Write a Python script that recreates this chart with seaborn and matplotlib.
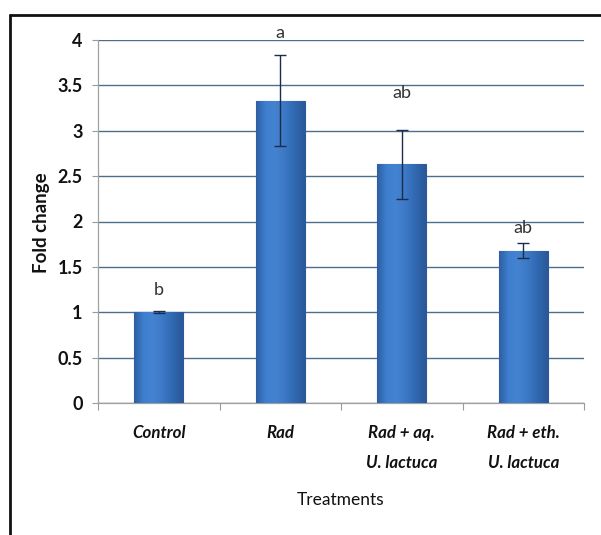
import numpy as np
import pandas as pd
import matplotlib
matplotlib.use("Agg")
import matplotlib.pyplot as plt
from matplotlib.lines import Line2D
from matplotlib.colors import LinearSegmentedColormap
import seaborn as sns

# ---- data ----
categories = ["Control", "Rad", "Rad + aq.\nU. lactuca", "Rad + eth.\nU. lactuca"]
fold_change = [1.00, 3.33, 2.63, 1.68]
errors = [0.01, 0.50, 0.38, 0.08]
letters = ["b", "a", "ab", "ab"]
letter_y = [1.25, 4.08, 3.42, 1.93]
yticks = [0, 0.5, 1, 1.5, 2, 2.5, 3, 3.5, 4]
ytick_labels = ["0", "0.5", "1", "1.5", "2", "2.5", "3", "3.5", "4"]

df = pd.DataFrame({"Treatment": categories, "Fold change": fold_change})

sns.set_theme(style="white")
FONT = ["Lato", "DejaVu Sans"]
plt.rcParams["font.family"] = FONT

fig = plt.figure(figsize=(6.01, 5.35), dpi=100)
ax = fig.add_axes([98 / 601, 1 - 403 / 535, (584 - 98) / 601, (403 - 40) / 535])

sns.barplot(data=df, x="Treatment", y="Fold change", color="#3a76c4",
            width=0.4, edgecolor="#2a5a9a", linewidth=0.8, ax=ax, zorder=3)

# gradient fill on bars
cmap = LinearSegmentedColormap.from_list(
    "bar", ["#2d5ea2", "#3f7fcf", "#4483d0", "#3b77c4", "#3068b0", "#2a5898"])
grad = np.linspace(0, 1, 256).reshape(1, -1)
for p in ax.patches:
    x0, y0 = p.get_x(), p.get_y()
    w, h = p.get_width(), p.get_height()
    im = ax.imshow(grad, cmap=cmap, aspect="auto",
                   extent=[x0, x0 + w, y0, y0 + h], zorder=3.5)
    im.set_clip_path(p)

ax.errorbar(range(len(categories)), fold_change, yerr=errors, fmt="none",
            ecolor="#1c2c4a", elinewidth=1.0, capsize=4.5, capthick=1.0, zorder=5)

for i, (lt, ly) in enumerate(zip(letters, letter_y)):
    ax.text(i, ly, lt, ha="center", va="center", fontsize=13,
            color="#333333", family=FONT, zorder=6)

ax.set_xlim(-0.5, 3.5)
ax.set_ylim(0, 4)
ax.set_yticks(yticks)
ax.set_yticklabels(ytick_labels, fontsize=13, fontweight="bold", color="#111111")
ax.set_xticks(range(len(categories)))
ax.set_xticklabels(categories, fontsize=12.2, fontweight="bold", fontstyle="italic",
                   color="#111111", linespacing=2.05)
ax.set_xticks([-0.5, 0.5, 1.5, 2.5, 3.5], minor=True)
ax.tick_params(axis="x", which="major", length=0, pad=16)
ax.tick_params(axis="x", which="minor", length=5, color="#9a9a9a", width=0.8,
               direction="out", bottom=True)
ax.tick_params(axis="y", which="major", length=4, color="#9a9a9a", width=0.8,
               direction="out", left=True, pad=7)

ax.yaxis.grid(True, color="#4d6f8e", linewidth=1.0, zorder=0)
ax.set_axisbelow(True)
for s in ["top", "right"]:
    ax.spines[s].set_visible(False)
for s in ["left", "bottom"]:
    ax.spines[s].set_color("#a0a0a0")
    ax.spines[s].set_linewidth(0.9)

ax.set_ylabel("Fold change", fontsize=13.5, fontweight="bold", color="#111111")
ax.yaxis.set_label_coords(-0.099, 0.496)
ax.set_xlabel("Treatments", fontsize=12.5, color="#111111")
ax.xaxis.set_label_coords(0.5, -0.245)

# outer frame (top and left edges)
fig.add_artist(Line2D([10 / 601, 1.0], [1 - 15 / 535, 1 - 15 / 535],
                      transform=fig.transFigure, color="#111111", linewidth=2))
fig.add_artist(Line2D([10 / 601, 10 / 601], [1 - 15 / 535, 0.0],
                      transform=fig.transFigure, color="#111111", linewidth=2))

fig.savefig("out.png", dpi=100)
